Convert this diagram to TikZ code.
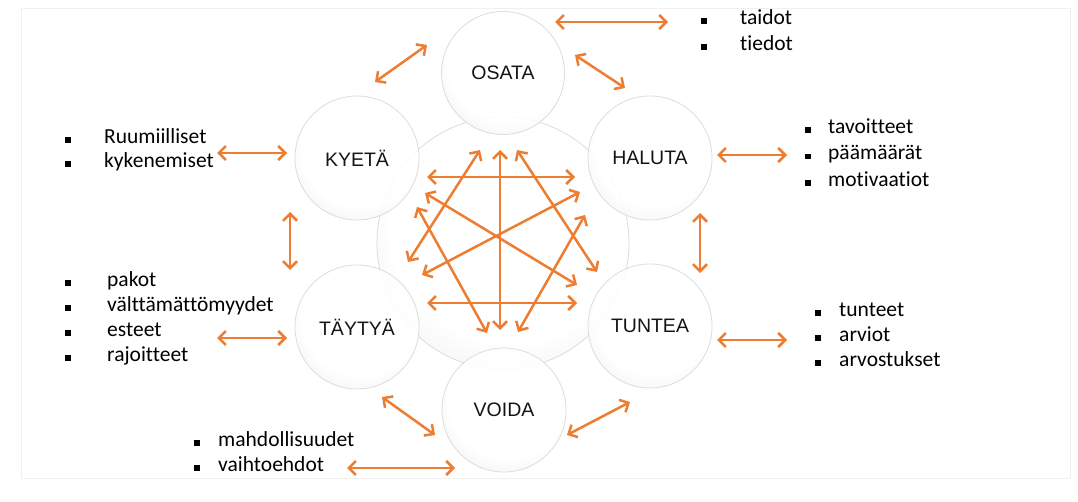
\documentclass[tikz,border=0pt]{standalone}
\usepackage{fontspec}
\setmainfont{Carlito}[Ligatures=NoCommon]
\newfontfamily\labfont{Liberation Sans}
\usetikzlibrary{arrows.meta}
\definecolor{arrorange}{RGB}{237,125,49}
\pgfdeclareradialshading{bubble}{\pgfpoint{3bp}{8bp}}{color(0bp)=(white);color(24bp)=(white);color(38bp)=(black!8);color(46bp)=(black!17);color(53bp)=(black!28)}
\tikzset{
  bub/.style={circle,shading=bubble,draw=black!15,line width=0.8pt,inner sep=0pt,font=\labfont\fontsize{19.5}{22}\selectfont,text=black!92,fill opacity=0.9,draw opacity=0.9,text opacity=1},
  arr/.style={draw=arrorange,line width=2.5pt,{Straight Barb[length=7pt,width=14pt]}-{Straight Barb[length=7pt,width=14pt]}},
  item/.style={anchor=west,inner sep=0pt,text height=0.75em,text depth=0.05em,font=\fontsize{21.5}{25}\selectfont,text=black},
  bsq/.style={fill=black,inner sep=0pt,minimum size=5.5pt}
}
\begin{document}
\begin{tikzpicture}[x=1pt,y=-1pt]
\useasboundingbox (0,0) rectangle (1078,502);
\fill[white] (0,0) rectangle (1078,502);
\draw[black!6,line width=0.6pt] (21,8) rectangle (1070,478);
% circles
\node[bub,minimum size=252pt] (big) at (503,243) {};
\node[bub,minimum size=123pt] (osata) at (503,73) {OSATA};
\node[bub,minimum size=124pt] (haluta) at (650,158) {HALUTA};
\node[bub,minimum size=124pt] (tuntea) at (650,326) {TUNTEA};
\node[bub,minimum size=124pt] (voida) at (504,410) {VOIDA};
\node[bub,minimum size=124pt] (taytya) at (357,327) {TÄYTYÄ};
\node[bub,minimum size=124pt] (kyeta) at (357,158) {KYETÄ};
% central arrows
\path (427,177) coordinate (c1a) (575,177) coordinate (c1b)
      (427,303) coordinate (c2a) (577,303) coordinate (c2b)
      (500,150) coordinate (c3a) (500,330) coordinate (c3b)
      (480,150) coordinate (c4a) (408,262) coordinate (c4b)
      (517,150) coordinate (c5a) (597,272) coordinate (c5b)
      (425,193) coordinate (c6a) (577,285) coordinate (c6b)
      (580,192) coordinate (c7a) (422,275) coordinate (c7b)
      (417,207) coordinate (c8a) (487,333) coordinate (c8b)
      (585,215) coordinate (c9a) (518,332) coordinate (c9b);
\foreach \i in {1,...,9} \draw[arr] (c\i a) -- (c\i b);
% outer arrows
\path (555,22) coordinate (o1a) (668,22) coordinate (o1b)
      (375,82) coordinate (o2a) (427,45) coordinate (o2b)
      (575,55) coordinate (o3a) (625,88) coordinate (o3b)
      (717,155) coordinate (o4a) (787,155) coordinate (o4b)
      (700,213) coordinate (o5a) (700,273) coordinate (o5b)
      (717,340) coordinate (o6a) (787,340) coordinate (o6b)
      (630,402) coordinate (o7a) (567,435) coordinate (o7b)
      (382,397) coordinate (o8a) (435,435) coordinate (o8b)
      (347,468) coordinate (o9a) (455,468) coordinate (o9b)
      (217,153) coordinate (o10a) (287,153) coordinate (o10b)
      (217,338) coordinate (o11a) (287,338) coordinate (o11b)
      (290,212) coordinate (o12a) (290,270) coordinate (o12b);
\foreach \i in {1,...,12} \draw[arr] (o\i a) -- (o\i b);
% lists
\foreach \t [count=\i] in {taidot,tiedot}
  {\node[bsq] (b1-\i) at (704,21+26*\i-26) {};
   \node[item] (l1-\i) at (740,21+26*\i-26) {\t};}
\foreach \t [count=\i] in {tavoitteet,päämäärät,motivaatiot}
  {\node[bsq] (b2-\i) at (808,130+26.5*\i-26.5) {};
   \node[item] (l2-\i) at (828,130+26.5*\i-26.5) {\t};}
\foreach \t [count=\i] in {tunteet,arviot,arvostukset}
  {\node[bsq] (b3-\i) at (818,313+25*\i-25) {};
   \node[item] (l3-\i) at (839,313+25*\i-25) {\t};}
\foreach \t [count=\i] in {Ruumiilliset,kykenemiset}
  {\node[bsq] (b4-\i) at (68,140+24*\i-24) {};
   \node[item] (l4-\i) at (104,140+24*\i-24) {\t};}
\foreach \t [count=\i] in {pakot,välttämättömyydet,esteet,rajoitteet}
  {\node[bsq] (b5-\i) at (68,283+25*\i-25) {};
   \node[item] (l5-\i) at (107,283+25*\i-25) {\t};}
\foreach \t [count=\i] in {mahdollisuudet,vaihtoehdot}
  {\node[bsq] (b6-\i) at (197,443+25*\i-25) {};
   \node[item] (l6-\i) at (218,443+25*\i-25) {\t};}
\end{tikzpicture}
\end{document}
